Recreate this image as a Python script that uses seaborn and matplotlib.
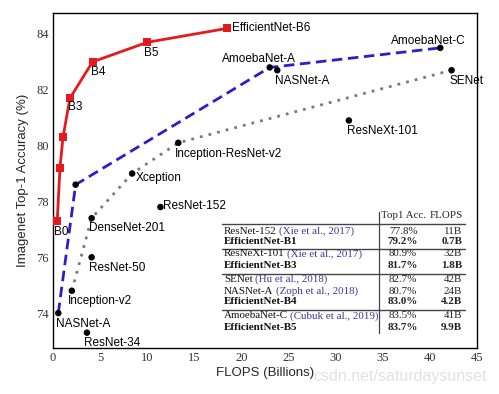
import matplotlib
matplotlib.use("Agg")
import matplotlib.pyplot as plt
import seaborn as sns
import pandas as pd

# ---------------- data ----------------
eff_names = ["B0", "B1", "B2", "B3", "B4", "B5", "EfficientNet-B6"]
eff_flops = [0.45, 0.74, 1.06, 1.8, 4.2, 10.0, 18.5]
eff_acc = [77.3, 79.2, 80.3, 81.7, 83.0, 83.7, 84.2]
eff_show = [True, False, False, True, True, True, True]

nas_names = ["NASNet-A", "", "AmoebaNet-A", "AmoebaNet-C"]
nas_flops = [0.56, 2.4, 23.0, 41.1]
nas_acc = [74.0, 78.6, 82.8, 83.5]

hand_names = ["Inception-v2", "DenseNet-201", "Xception", "Inception-ResNet-v2", "SENet"]
hand_flops = [2.0, 4.1, 8.4, 13.3, 42.3]
hand_acc = [74.8, 77.4, 79.0, 80.1, 82.7]

other_names = ["ResNet-34", "ResNet-50", "ResNet-152", "NASNet-A", "ResNeXt-101"]
other_flops = [3.6, 4.1, 11.4, 23.8, 31.4]
other_acc = [73.3, 76.0, 77.8, 82.7, 80.9]

x_ticks = [0, 5, 10, 15, 20, 25, 30, 35, 40, 45]
y_ticks = [74, 76, 78, 80, 82, 84]

tab_models = ["ResNet-152", "EfficientNet-B1", "ResNeXt-101", "EfficientNet-B3",
              "SENet", "NASNet-A", "EfficientNet-B4", "AmoebaNet-C", "EfficientNet-B5"]
tab_cites = ["(Xie et al., 2017)", "", "(Xie et al., 2017)", "",
             "(Hu et al., 2018)", "(Zoph et al., 2018)", "", "(Cubuk et al., 2019)", ""]
tab_acc = ["77.8%", "79.2%", "80.9%", "81.7%", "82.7%", "80.7%", "83.0%", "83.5%", "83.7%"]
tab_flops = ["11B", "0.7B", "32B", "1.8B", "42B", "24B", "4.2B", "41B", "9.9B"]
tab_bold = [False, True, False, True, False, False, True, False, True]

# ---------------- style ----------------
sns.set_theme(style="white")
plt.rcParams["font.family"] = ["Liberation Sans", "DejaVu Sans"]

W, H = 499, 394
fig = plt.figure(figsize=(W / 100, H / 100), dpi=100)
L, R, T, B = 53, 477, 13, 348
ax = fig.add_axes([L / W, 1 - B / H, (R - L) / W, (B - T) / H])

RED = "#e41a1c"
BLUE = "#2a1ecf"
GRAY = "#7a7a7a"

eff = pd.DataFrame({"flops": eff_flops, "acc": eff_acc})
nas = pd.DataFrame({"flops": nas_flops, "acc": nas_acc})
hand = pd.DataFrame({"flops": hand_flops, "acc": hand_acc})
other = pd.DataFrame({"flops": other_flops, "acc": other_acc})

sns.lineplot(data=hand, x="flops", y="acc", sort=False, ax=ax, color=GRAY,
             linestyle=(0, (1, 2.2)), linewidth=2.0, zorder=2)
sns.lineplot(data=nas, x="flops", y="acc", sort=False, ax=ax, color=BLUE,
             linestyle=(0, (3.8, 2)), linewidth=2.0, zorder=3)
sns.lineplot(data=eff, x="flops", y="acc", sort=False, ax=ax, color=RED,
             linewidth=2.0, marker="s", markersize=5.5, markeredgewidth=0,
             zorder=4)
for df in (hand, nas, other):
    sns.scatterplot(data=df, x="flops", y="acc", ax=ax, color="black", s=22,
                    edgecolor="none", zorder=5)

lab_kw = dict(textcoords="offset pixels", fontsize=8.5, color="black",
              va="center", zorder=6)

# label offsets in pixels (right, down)
eff_off = [(-3, 11), None, None, (-2, 9), (-2, 10), (-3, 11), (5, 0)]
for n, x, y, s, o in zip(eff_names, eff_flops, eff_acc, eff_show, eff_off):
    if s:
        ax.annotate(n, (x, y), xytext=(o[0], -o[1]), ha="left", **lab_kw)

nas_off = [(-2, 11, "left"), None, (-11, -8, "center"), (-12, -7, "center")]
for n, x, y, o in zip(nas_names, nas_flops, nas_acc, nas_off):
    if n:
        ax.annotate(n, (x, y), xytext=(o[0], -o[1]), ha=o[2], **lab_kw)

hand_off = [(-4, 10), (-3, 10), (4, 4), (-3, 11), (-2, 11)]
for n, x, y, o in zip(hand_names, hand_flops, hand_acc, hand_off):
    ax.annotate(n, (x, y), xytext=(o[0], -o[1]), ha="left", **lab_kw)

other_off = [(-3, 10), (-3, 11), (3, -1), (-2, 11), (-2, 11)]
for n, x, y, o in zip(other_names, other_flops, other_acc, other_off):
    ax.annotate(n, (x, y), xytext=(o[0], -o[1]), ha="left", **lab_kw)

# ---------------- axes ----------------
ax.set_xlim(0, 45)
ax.set_ylim(72.75, 84.75)
ax.set_xticks(x_ticks)
ax.set_yticks(y_ticks)
serif = ["Liberation Serif", "DejaVu Serif"]
ax.set_xticklabels([str(t) for t in x_ticks], family=serif, fontsize=9, color="#333333")
ax.set_yticklabels([str(t) for t in y_ticks], family=serif, fontsize=9, color="#333333")
ax.tick_params(direction="in", length=3, width=0.8, color="#333333", pad=3)
for sp in ax.spines.values():
    sp.set_color("black")
    sp.set_linewidth(1.0)
ax.set_xlabel("FLOPS (Billions)", fontsize=9.5, labelpad=2)
ax.set_ylabel("Imagenet Top-1 Accuracy (%)", fontsize=9.5, labelpad=5)

# ---------------- table ----------------
def fx(px):
    return px / W

def fy(py):
    return 1 - py / H

TS = 7.9
CITE = "#3b3b9a"
fig.text(fx(381), fy(216), "Top1 Acc.", family=serif, fontsize=TS, va="center", ha="left")
fig.text(fx(463), fy(216), "FLOPS", family=serif, fontsize=TS, va="center", ha="right")
row_y = [231, 242, 254, 266, 279, 291, 302, 316, 328]
for yy, m, c, a, f, b in zip(row_y, tab_models, tab_cites, tab_acc, tab_flops, tab_bold):
    wt = "bold" if b else "normal"
    t = fig.text(fx(224), fy(yy), m, family=serif, fontsize=TS, va="center",
                 ha="left", weight=wt, color="#111111")
    if c:
        ax.annotate(c, xy=(1, 0.5), xycoords=t, xytext=(2, 0),
                    textcoords="offset pixels", family=serif, fontsize=TS,
                    color=CITE, va="center", ha="left", annotation_clip=False)
    fig.text(fx(403), fy(yy), a, family=serif, fontsize=TS, va="center",
             ha="center", weight=wt, color="#222222")
    fig.text(fx(462), fy(yy), f, family=serif, fontsize=TS, va="center",
             ha="right", weight=wt, color="#222222")

for ly in [224, 249, 274, 310]:
    fig.add_artist(plt.Line2D([fx(222), fx(465)], [fy(ly), fy(ly)],
                              color="#444444", linewidth=1.0))
fig.add_artist(plt.Line2D([fx(379), fx(379)], [fy(212), fy(333)],
                          color="#444444", linewidth=0.9))

# faint watermark
fig.text(fx(487), fy(376), "csdn.net/saturdaysunset", fontsize=11.5,
         color="#e2e2e2", ha="right", va="center", zorder=0)

fig.savefig("out.png", dpi=100)
